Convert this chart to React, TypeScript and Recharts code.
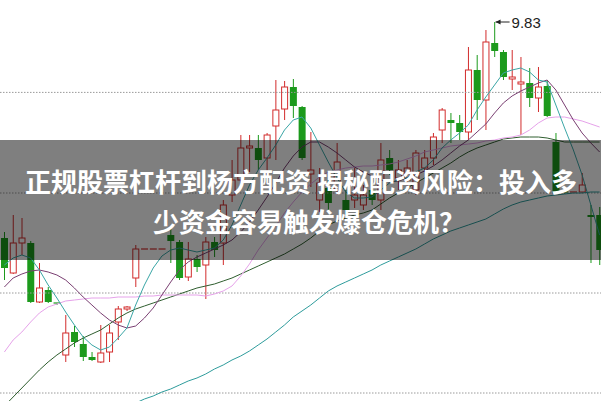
import React from 'react';
import { ComposedChart, Bar, Line, XAxis, YAxis, ReferenceLine, ReferenceDot } from 'recharts';

// daily candles (price scale estimated from the 9.83 high)
const OPEN = [
  8.75, 8.575, 8.725, 8.725, 8.43, 8.49, 8.425, 8.165, 8.28, 8.22, 8.155, 8.13, 8.18, 8.33, 8.395, 8.55,
  8.695, 8.695, 8.695, 8.765, 8.73, 8.555, 8.645, 8.615, 8.73, 8.725, 8.965, 9.04, 9.2, 9.2, 9.15, 9.31,
  9.395, 9.505, 9.405, 9.07, 8.94, 9.0, 8.99, 8.94, 8.94, 8.915, 8.99, 8.94, 9.15, 9.05, 9.04, 8.99,
  9.1, 9.15, 9.29, 9.34, 9.325, 9.28, 9.59, 9.44, 9.725, 9.68, 9.545, 9.52, 9.525, 9.45, 9.51, 9.23,
  8.98, 8.98, 8.98, 8.865, 8.865,
];
const CLOSE = [
  8.6, 8.725, 8.75, 8.43, 8.5, 8.43, 8.42, 8.275, 8.23, 8.155, 8.14, 8.175, 8.275, 8.395, 8.405, 8.695,
  8.695, 8.695, 8.695, 8.735, 8.55, 8.645, 8.605, 8.73, 8.69, 8.915, 9.04, 9.2, 9.21, 9.14, 9.265, 9.39,
  9.505, 9.41, 9.15, 9.09, 9.025, 8.925, 9.13, 8.89, 8.965, 8.965, 8.94, 9.14, 9.09, 9.09, 9.1, 9.175,
  9.15, 9.255, 9.39, 9.325, 9.28, 9.59, 9.44, 9.73, 9.685, 9.555, 9.555, 9.53, 9.45, 9.505, 9.36, 8.975,
  8.975, 8.98, 9.015, 8.855, 8.69,
];
const HIGH = [
  8.78, 8.865, 8.85, 8.735, 8.625, 8.505, 8.425, 8.365, 8.31, 8.26, 8.18, 8.315, 8.315, 8.41, 8.41, 8.715,
  8.695, 8.695, 8.695, 8.8, 8.74, 8.73, 8.665, 8.755, 8.755, 8.94, 9.14, 9.265, 9.265, 9.265, 9.275, 9.54,
  9.535, 9.545, 9.41, 9.28, 9.1, 9.04, 9.225, 8.99, 9.1, 9.015, 9.025, 9.225, 9.19, 9.14, 9.14, 9.19,
  9.19, 9.275, 9.4, 9.375, 9.365, 9.705, 9.665, 9.79, 9.83, 9.69, 9.69, 9.655, 9.6, 9.605, 9.54, 9.275,
  8.99, 8.98, 9.075, 8.915, 8.905,
];
const LOW = [
  8.54, 8.57, 8.665, 8.425, 8.425, 8.425, 8.415, 8.13, 8.205, 8.135, 8.135, 8.125, 8.13, 8.24, 8.385, 8.505,
  8.695, 8.695, 8.695, 8.625, 8.54, 8.535, 8.58, 8.445, 8.655, 8.615, 8.93, 9.0, 9.08, 9.09, 9.065, 9.14,
  9.34, 9.35, 9.14, 9.005, 8.88, 8.89, 8.965, 8.865, 8.9, 8.89, 8.915, 8.89, 9.065, 8.99, 9.0, 8.965,
  9.08, 9.115, 9.225, 9.225, 9.24, 9.24, 9.34, 9.29, 9.655, 9.54, 9.49, 9.265, 9.405, 9.38, 9.355, 8.97,
  8.97, 8.98, 8.975, 8.625, 8.615,
];

// moving averages as drawn
const MA5 = [
  8.615, 8.65, 8.665, 8.65, 8.59, 8.515, 8.45, 8.38, 8.315, 8.255, 8.215, 8.19, 8.205, 8.25, 8.3, 8.415,
  8.515, 8.6, 8.66, 8.69, 8.7, 8.69, 8.68, 8.69, 8.7, 8.74, 8.815, 8.915, 9.015, 9.09, 9.15, 9.215,
  9.29, 9.34, 9.355, 9.3, 9.215, 9.13, 9.05, 8.98, 8.95, 8.95, 8.955, 8.99, 9.025, 9.04, 9.05, 9.08,
  9.1, 9.14, 9.2, 9.24, 9.275, 9.315, 9.39, 9.455, 9.515, 9.575, 9.59, 9.6, 9.58, 9.54, 9.53, 9.415,
  9.3, 9.19, 9.065, 8.915, 8.765,
];
const MA10 = [
  8.505, 8.55, 8.57, 8.585, 8.59, 8.58, 8.565, 8.54, 8.5, 8.455, 8.415, 8.375, 8.34, 8.315, 8.3, 8.31,
  8.35, 8.4, 8.465, 8.53, 8.59, 8.63, 8.655, 8.675, 8.695, 8.715, 8.74, 8.78, 8.83, 8.89, 8.955, 9.025,
  9.1, 9.16, 9.205, 9.23, 9.23, 9.205, 9.175, 9.14, 9.105, 9.08, 9.06, 9.04, 9.03, 9.035, 9.05, 9.065,
  9.085, 9.11, 9.14, 9.175, 9.21, 9.24, 9.28, 9.32, 9.375, 9.425, 9.46, 9.485, 9.505, 9.525, 9.54, 9.49,
  9.415, 9.34, 9.275, 9.225, 9.18,
];
const MA20 = [
  8.18, 8.24, 8.28, 8.33, 8.375, 8.405, 8.42, 8.435, 8.44, 8.445, 8.45, 8.45, 8.45, 8.455, 8.455, 8.455,
  8.46, 8.46, 8.465, 8.465, 8.465, 8.465, 8.465, 8.46, 8.47, 8.485, 8.51, 8.56, 8.62, 8.69, 8.75, 8.81,
  8.875, 8.93, 8.98, 9.02, 9.055, 9.08, 9.09, 9.1, 9.105, 9.11, 9.11, 9.115, 9.12, 9.13, 9.145, 9.16,
  9.18, 9.19, 9.2, 9.21, 9.215, 9.22, 9.225, 9.235, 9.24, 9.25, 9.255, 9.265, 9.29, 9.325, 9.35, 9.355,
  9.355, 9.345, 9.335, 9.32, 9.305,
];
const MA30 = [
  7.91, 7.955, 8.0, 8.045, 8.09, 8.13, 8.165, 8.195, 8.225, 8.25, 8.27, 8.29, 8.32, 8.35, 8.375, 8.395,
  8.41, 8.425, 8.44, 8.455, 8.47, 8.485, 8.5, 8.51, 8.52, 8.535, 8.55, 8.57, 8.59, 8.61, 8.63, 8.65,
  8.67, 8.695, 8.72, 8.75, 8.785, 8.815, 8.835, 8.85, 8.865, 8.875, 8.89, 8.92, 8.95, 8.975, 9.0, 9.025,
  9.05, 9.075, 9.1, 9.125, 9.155, 9.18, 9.2, 9.215, 9.23, 9.245, 9.25, 9.255, 9.255, 9.255, 9.25, 9.24,
  9.23, 9.23, 9.23, 9.23, 9.23,
];
const MA60 = [
  null, null, null, null, null, null, null, null, null, null, null, null, null, null, null, 7.925,
  7.945, 7.96, 7.98, 7.995, 8.015, 8.035, 8.05, 8.07, 8.095, 8.115, 8.14, 8.16, 8.185, 8.215, 8.245, 8.28,
  8.315, 8.355, 8.385, 8.415, 8.45, 8.485, 8.51, 8.53, 8.55, 8.57, 8.59, 8.615, 8.635, 8.655, 8.675, 8.695,
  8.72, 8.745, 8.765, 8.785, 8.8, 8.815, 8.83, 8.845, 8.87, 8.895, 8.915, 8.93, 8.94, 8.95, 8.96, 8.965,
  8.97, 8.975, 8.975, 8.98, 8.98,
];

const GRID_LEVELS = [9.478, 8.975, 8.475, 7.975];
const Y_DOMAIN = [7.935, 9.94];

const TITLE_LINE_1 = '正规股票杠杆到杨方配资 揭秘配资风险：投入多';
const TITLE_LINE_2 = '少资金容易触发爆仓危机？';

const RED = '#d22c2c';
const GREEN = '#1c9a1c';

const rows = OPEN.map((open, i) => ({
  i,
  open,
  close: CLOSE[i],
  high: HIGH[i],
  low: LOW[i],
  ma5: MA5[i],
  ma10: MA10[i],
  ma20: MA20[i],
  ma30: MA30[i],
  ma60: MA60[i],
}));

const maxIdx = HIGH.indexOf(Math.max(...HIGH));

const Candle = (props: any) => {
  const { x, y, width, height, payload } = props;
  if (x == null || y == null) return null;
  const { open, close, high, low } = payload;
  const up = close >= open;
  const color = up ? RED : GREEN;
  const yTop = Math.min(y, y + height);
  const h = Math.abs(height);
  const span = high - low;
  const toY = (v: number) => (span > 0 ? yTop + ((high - v) / span) * h : yTop);
  const cx = x + width / 2;
  if (span === 0) {
    return <line x1={x} x2={x + width} y1={yTop} y2={yTop} stroke={color} strokeWidth={1.2} />;
  }
  const bTop = toY(Math.max(open, close));
  const bBot = toY(Math.min(open, close));
  if (bBot - bTop < 1.2) {
    return (
      <g>
        <line x1={cx} x2={cx} y1={yTop} y2={yTop + h} stroke={color} />
        <line x1={x} x2={x + width} y1={bTop} y2={bTop} stroke={color} strokeWidth={1.2} />
      </g>
    );
  }
  if (up) {
    return (
      <g>
        <line x1={cx} x2={cx} y1={yTop} y2={bTop} stroke={color} />
        <line x1={cx} x2={cx} y1={bBot} y2={yTop + h} stroke={color} />
        <rect x={x + 0.5} y={bTop} width={width - 1} height={bBot - bTop} fill="#fff" stroke={color} />
      </g>
    );
  }
  return (
    <g>
      <line x1={cx} x2={cx} y1={yTop} y2={yTop + h} stroke={color} />
      <rect x={x} y={bTop} width={width} height={bBot - bTop} fill={color} />
    </g>
  );
};

const HighMark = (props: any) => {
  const { cx, cy } = props;
  if (cx == null || cy == null) return null;
  return (
    <g>
      <line x1={cx + 1} x2={cx + 15} y1={cy} y2={cy} stroke="#222" />
      <polygon points={`${cx + 1},${cy} ${cx + 6},${cy - 2.5} ${cx + 6},${cy + 2.5}`} fill="#222" />
      <text x={cx + 17} y={cy + 5.5} fontSize={15} fill="#222" fontFamily="Liberation Sans, Arial, sans-serif">
        {HIGH[maxIdx].toFixed(2)}
      </text>
    </g>
  );
};

const lineProps = { dot: false, activeDot: false, strokeWidth: 1, isAnimationActive: false } as const;

const App = () => {
  return (
    <div style={{ position: 'absolute', left: 0, top: 0, width: 601, height: 401, overflow: 'hidden', background: '#fff' }}>
      <ComposedChart width={604} height={401} data={rows} margin={{ top: 0, right: 0, bottom: 0, left: 0 }}>
        <XAxis dataKey="i" hide />
        <YAxis hide domain={Y_DOMAIN} allowDataOverflow />
        {GRID_LEVELS.map((v) => (
          <ReferenceLine key={v} y={v} stroke="#9a9a9a" strokeDasharray="1.5 1.5" />
        ))}
        <Line dataKey="ma60" stroke="#2e9c9c" {...lineProps} />
        <Line dataKey="ma30" stroke="#2f5e2f" {...lineProps} />
        <Line dataKey="ma20" stroke="#e6a2ea" {...lineProps} />
        <Line dataKey="ma10" stroke="#7a3f72" {...lineProps} />
        <Line dataKey="ma5" stroke="#3aa6a6" {...lineProps} />
        <Bar
          dataKey={(d: any) => [d.low, d.high]}
          barSize={7}
          shape={Candle}
          activeBar={false}
          isAnimationActive={false}
        />
        <ReferenceDot x={maxIdx} y={HIGH[maxIdx]} ifOverflow="visible" shape={HighMark} />
      </ComposedChart>
      <div
        style={{
          position: 'absolute',
          left: 0,
          top: 140,
          width: 601,
          height: 120,
          background: 'rgba(0,0,0,0.5)',
        }}
      />
      <div
        style={{
          position: 'absolute',
          left: 25,
          top: 168,
          whiteSpace: 'nowrap',
          color: '#fff',
          fontFamily: '"Noto Sans CJK SC", sans-serif',
          fontWeight: 700,
          fontSize: 26,
          lineHeight: '26px',
        }}
      >
        {TITLE_LINE_1}
      </div>
      <div
        style={{
          position: 'absolute',
          left: 153,
          top: 208,
          whiteSpace: 'nowrap',
          color: '#fff',
          fontFamily: '"Noto Sans CJK SC", sans-serif',
          fontWeight: 700,
          fontSize: 26,
          lineHeight: '26px',
        }}
      >
        {TITLE_LINE_2}
      </div>
    </div>
  );
};

export default App;
